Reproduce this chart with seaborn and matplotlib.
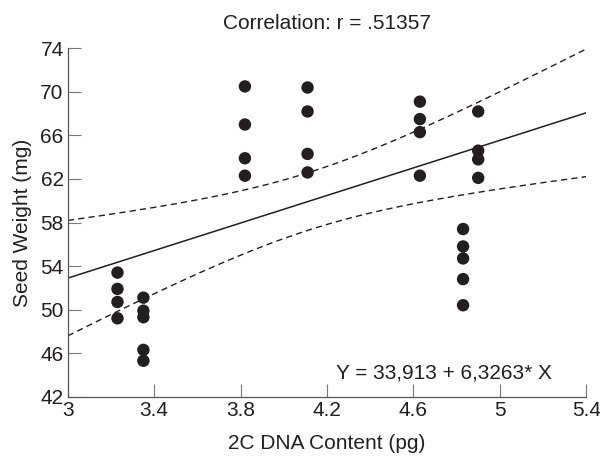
import numpy as np
import pandas as pd
import matplotlib
matplotlib.use("Agg")
import matplotlib.pyplot as plt
import seaborn as sns

# ---- data ----
dna_x = [3.23] * 4 + [3.35] * 5 + [3.82] * 4 + [4.11] * 4 + [4.63] * 4 + [4.83] * 5 + [4.90] * 4
seed_w = [53.4, 51.9, 50.7, 49.2,
          51.1, 49.9, 49.3, 46.3, 45.3,
          70.5, 67.0, 63.9, 62.3,
          70.4, 68.2, 64.3, 62.6,
          69.1, 67.5, 66.3, 62.3,
          57.4, 55.8, 54.7, 52.8, 50.4,
          68.2, 64.6, 63.8, 62.1]
intercept = 33.913
slope = 6.3263
x_ticks = [3, 3.4, 3.8, 4.2, 4.6, 5, 5.4]
y_ticks = [42, 46, 50, 54, 58, 62, 66, 70, 74]
title_text = "Correlation: r = .51357"
eq_text = "Y = 33,913 + 6,3263* X"
x_label = "2C DNA Content (pg)"
y_label = "Seed Weight (mg)"

sns.set_style("ticks")
plt.rcParams["font.family"] = ["Liberation Sans Narrow", "Liberation Sans", "DejaVu Sans"]

df = pd.DataFrame({"x": dna_x, "y": seed_w})

# regression line (given equation) and 95% confidence band for the mean
xs = np.linspace(3, 5.4, 200)
yhat = intercept + slope * xs
x_arr = np.array(dna_x)
y_arr = np.array(seed_w)
n = len(x_arr)
b1, b0 = np.polyfit(x_arr, y_arr, 1)
resid = y_arr - (b0 + b1 * x_arr)
s = np.sqrt(np.sum(resid ** 2) / (n - 2))
sxx = np.sum((x_arr - x_arr.mean()) ** 2)
tval = 2.048
half = tval * s * np.sqrt(1.0 / n + (xs - x_arr.mean()) ** 2 / sxx)
lines = pd.DataFrame({"x": xs, "fit": yhat, "lo": yhat - half, "hi": yhat + half})

fig = plt.figure(figsize=(6.0, 4.65), dpi=100)
ax = fig.add_axes([0.113, 0.1469, 0.864, 0.7492])

ink = "#231f20"
sns.lineplot(data=lines, x="x", y="fit", ax=ax, color=ink, lw=1.1)
sns.lineplot(data=lines, x="x", y="hi", ax=ax, color=ink, lw=1.0, linestyle=(0, (4.5, 3)))
sns.lineplot(data=lines, x="x", y="lo", ax=ax, color=ink, lw=1.0, linestyle=(0, (4.5, 3)))
sns.scatterplot(data=df, x="x", y="y", ax=ax, s=80, color=ink, edgecolor="none", zorder=3)

ax.set_xlim(3, 5.4)
ax.set_ylim(42, 74)
ax.set_xticks(x_ticks)
ax.set_xticklabels([f"{v:g}" for v in x_ticks])
ax.set_yticks(y_ticks)
ax.tick_params(direction="in", length=9.5, width=0.8, color="#777777",
               labelsize=15, labelcolor=ink, pad=3)
for side in ["top", "right"]:
    ax.spines[side].set_visible(False)
for side in ["left", "bottom"]:
    ax.spines[side].set_color("#555555")
    ax.spines[side].set_linewidth(0.9)

ax.set_xlabel(x_label, fontsize=15, color=ink, labelpad=10)
ax.set_ylabel(y_label, fontsize=15, color=ink, labelpad=6)
ax.set_title(title_text, fontsize=15, color=ink, pad=14)
ax.text(4.24, 44.2, eq_text, fontsize=15, color=ink, ha="left", va="center")

fig.savefig("out.png", dpi=100)
